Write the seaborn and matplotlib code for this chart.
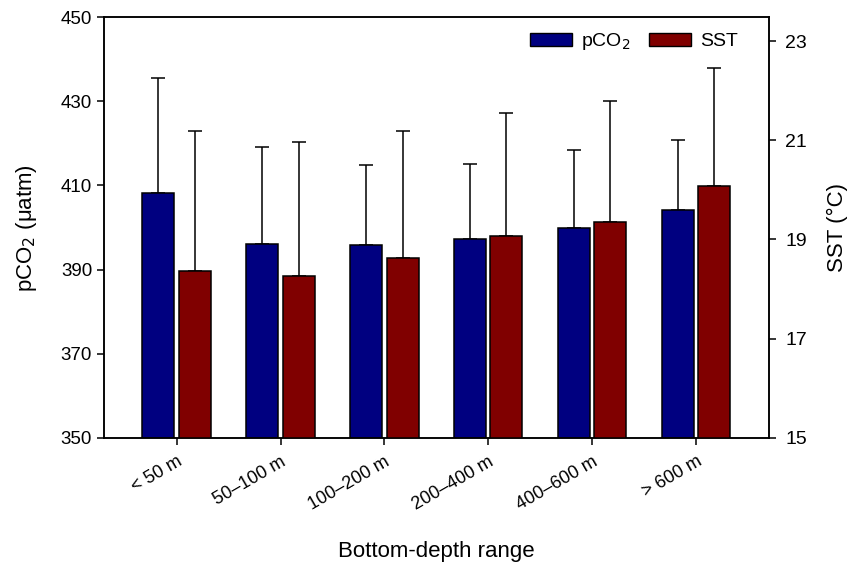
import matplotlib

matplotlib.use("Agg")
import matplotlib.pyplot as plt
import numpy as np
import pandas as pd
import seaborn as sns
from matplotlib.patches import Patch

# Values
depth_ranges = ["< 50 m", "50\u2013100 m", "100\u2013200 m", "200\u2013400 m", "400\u2013600 m", "> 600 m"]
pco2_mean = [408.2, 396.1, 395.8, 397.3, 399.9, 404.2]
pco2_sd = [27.3, 23.0, 19.0, 17.8, 18.5, 16.6]
sst_mean = [18.37, 18.27, 18.63, 19.07, 19.35, 20.08]
sst_sd = [2.82, 2.70, 2.56, 2.48, 2.44, 2.38]

PCO2_COLOR = "#000080"
SST_COLOR = "#800000"

sns.set_theme(style="ticks")
plt.rcParams["font.family"] = ["Liberation Sans", "DejaVu Sans"]
plt.rcParams.update({
    "text.color": "black",
    "axes.labelcolor": "black",
    "xtick.color": "black",
    "ytick.color": "black",
    "axes.edgecolor": "black",
})

# long-form tables: each axis only gets its own series, the other hue level is empty
nan = [np.nan] * len(depth_ranges)
df_left = pd.DataFrame({
    "range": depth_ranges * 2,
    "var": ["pCO2"] * len(depth_ranges) + ["SST"] * len(depth_ranges),
    "value": pco2_mean + nan,
})
df_right = pd.DataFrame({
    "range": depth_ranges * 2,
    "var": ["pCO2"] * len(depth_ranges) + ["SST"] * len(depth_ranges),
    "value": nan + sst_mean,
})
palette = {"pCO2": PCO2_COLOR, "SST": SST_COLOR}

fig, ax = plt.subplots(figsize=(8.59, 5.76), dpi=100)
fig.subplots_adjust(left=0.121, right=0.895, top=0.970, bottom=0.240)
ax2 = ax.twinx()

bar_kw = dict(x="range", y="value", hue="var", hue_order=["pCO2", "SST"],
              order=depth_ranges, palette=palette, width=0.7, gap=0.12,
              saturation=1, errorbar=None, edgecolor="black", linewidth=1.1,
              legend=False)
sns.barplot(data=df_left, ax=ax, **bar_kw)
sns.barplot(data=df_right, ax=ax2, **bar_kw)


def add_upper_errors(axis, sds):
    bars = [p for p in axis.patches if np.isfinite(p.get_height()) and p.get_height() > 0]
    bars.sort(key=lambda p: p.get_x())
    xs = [p.get_x() + p.get_width() / 2 for p in bars]
    tops = [p.get_y() + p.get_height() for p in bars]
    axis.errorbar(xs, tops, yerr=[np.zeros(len(sds)), sds], fmt="none",
                  ecolor="black", elinewidth=1.1, capsize=5, capthick=1.1, zorder=0)


add_upper_errors(ax, pco2_sd)
add_upper_errors(ax2, sst_sd)

ax.set_ylim(350, 450)
ax.set_yticks([350, 370, 390, 410, 430, 450])
ax2.set_ylim(15, 23.48)
ax2.set_yticks([15, 17, 19, 21, 23])
ax.set_xlim(-0.7, 5.7)

ax.set_xlabel("Bottom-depth range", fontsize=16, labelpad=20)
ax.set_ylabel("pCO$_2$ (\u03bcatm)", fontsize=16, labelpad=16)
ax2.set_ylabel("SST (\u00b0C)", fontsize=16, labelpad=14)

ax.tick_params(axis="y", labelsize=13.5, width=1.1, length=5, direction="out")
ax2.tick_params(axis="y", labelsize=14, width=1.1, length=5, direction="out", pad=7)
ax.tick_params(axis="x", labelsize=13, width=1.1, length=5, direction="out", pad=6)
plt.setp(ax.get_xticklabels(), rotation=30, ha="right", rotation_mode="anchor")

for a in (ax, ax2):
    for s in a.spines.values():
        s.set_visible(True)
        s.set_linewidth(1.1)
        s.set_color("black")
ax2.grid(False)
ax.grid(False)

handles = [Patch(facecolor=PCO2_COLOR, edgecolor="black", label="pCO$_2$"),
           Patch(facecolor=SST_COLOR, edgecolor="black", label="SST")]
ax2.legend(handles=handles, loc="upper right", ncol=2, frameon=False, fontsize=14,
           handlelength=2.15, handleheight=0.67, handletextpad=0.5,
           columnspacing=0.93, borderaxespad=0, bbox_to_anchor=(0.966, 0.986))

plt.savefig("out.png", dpi=100)
plt.close()
